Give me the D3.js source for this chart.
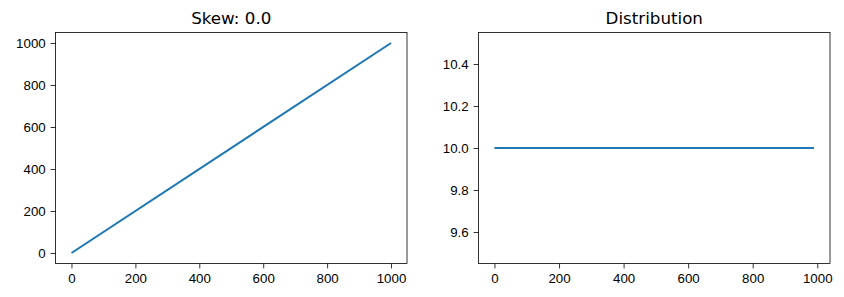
<!DOCTYPE html>
<html>
<head>
<meta charset="utf-8">
<script src="https://cdn.jsdelivr.net/npm/d3@7"></script>
<style>
  body { margin: 0; background: #fff; }
  svg { display: block; font-family: "DejaVu Sans", sans-serif; }
  .tick text { font-size: 13.3px; fill: #000; }
  .tick line { stroke: #000; stroke-width: 0.8px; }
  .domain { display: none; }
</style>
</head>
<body>
<svg id="chart" width="844" height="297"></svg>
<script>
  // left panel: skew line
  const skewX = [0, 1000];
  const skewY = [0, 1000];
  const skewTicksX = [0, 200, 400, 600, 800, 1000];
  const skewTicksY = [0, 200, 400, 600, 800, 1000];

  // right panel: distribution
  const distX = [0, 990];
  const distY = [10, 10];
  const distTicksX = [0, 200, 400, 600, 800, 1000];
  const distTicksY = [9.6, 9.8, 10.0, 10.2, 10.4];

  const svg = d3.select("#chart");

  function panel(opts) {
    const { left, right, top, bottom, xDomain, yDomain, xs, ys, xTicks, yTicks, yFmt, title } = opts;
    const x = d3.scaleLinear().domain(xDomain).range([left, right]);
    const y = d3.scaleLinear().domain(yDomain).range([bottom, top]);
    const g = svg.append("g");

    g.append("g")
      .attr("transform", `translate(0,${bottom})`)
      .call(d3.axisBottom(x).tickValues(xTicks).tickSize(4.9).tickPadding(4.9).tickFormat(d3.format("d")));

    g.append("g")
      .attr("transform", `translate(${left},0)`)
      .call(d3.axisLeft(y).tickValues(yTicks).tickSize(4.9).tickPadding(4.9).tickFormat(yFmt));

    const pts = xs.map((v, i) => [v, ys[i]]);
    g.append("path")
      .datum(pts)
      .attr("fill", "none")
      .attr("stroke", "#1f77b4")
      .attr("stroke-width", 2.08)
      .attr("d", d3.line().x(d => x(d[0])).y(d => y(d[1])));

    g.append("rect")
      .attr("x", left).attr("y", top)
      .attr("width", right - left).attr("height", bottom - top)
      .attr("fill", "none").attr("stroke", "#000").attr("stroke-width", 0.8);

    g.append("text")
      .attr("x", (left + right) / 2).attr("y", top - 8.3)
      .attr("text-anchor", "middle")
      .attr("font-size", "16.7px")
      .text(title);
  }

  panel({
    left: 55.5, right: 407, top: 32.5, bottom: 263.5,
    xDomain: [-50, 1050], yDomain: [-50, 1050],
    xs: skewX, ys: skewY, xTicks: skewTicksX, yTicks: skewTicksY,
    yFmt: d3.format("d"), title: "Skew: 0.0"
  });

  panel({
    left: 478.5, right: 830, top: 32.5, bottom: 263.5,
    xDomain: [-49.5, 1039.5], yDomain: [9.45, 10.55],
    xs: distX, ys: distY, xTicks: distTicksX, yTicks: distTicksY,
    yFmt: d3.format(".1f"), title: "Distribution"
  });
</script>
</body>
</html>
